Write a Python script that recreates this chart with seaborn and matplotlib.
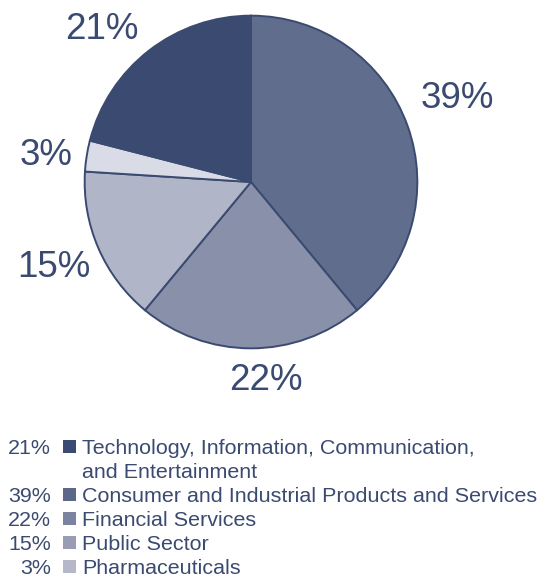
import numpy as np
import matplotlib
matplotlib.use("Agg")
import matplotlib.pyplot as plt
import seaborn as sns
from matplotlib.patches import Rectangle

sns.set_theme(style="white")
plt.rcParams["font.family"] = ["Liberation Sans", "DejaVu Sans"]

# Share of engagements by industry (percent)
sectors = [
    ["Consumer and Industrial Products and Services"],
    ["Financial Services"],
    ["Public Sector"],
    ["Pharmaceuticals"],
    ["Technology, Information, Communication,", "and Entertainment"],
]
shares = [39, 22, 15, 3, 21]
pie_colors = ["#616d8c", "#8991aa", "#b0b6c8", "#d9dce6", "#3a4a70"]

# Legend order and swatch colours
legend_order = [4, 0, 1, 2, 3]
legend_colors = ["#3b4a72", "#5d6889", "#7b83a0", "#989db3", "#b4b8c9"]

ink = "#3a4a70"
# radial distance and angular nudge (degrees) of each percentage label's baseline anchor
label_radius = [1.316, 1.253, 1.315, 1.239, 1.246]
label_nudge = [0.0, 4.2, 2.35, 4.3, 8.4]

fig = plt.figure(figsize=(5.56, 5.78), dpi=100)
ax = fig.add_axes([83 / 556, 1 - 350 / 578, 336 / 556, 336 / 578])

wedges, _ = ax.pie(
    shares,
    colors=pie_colors,
    startangle=90,
    counterclock=False,
    radius=1.0,
    wedgeprops=dict(edgecolor=ink, linewidth=1.4),
)
ax.set_xlim(-1.01, 1.01)
ax.set_ylim(-1.01, 1.01)
ax.set_aspect("equal")
ax.axis("off")

for w, v, r, d in zip(wedges, shares, label_radius, label_nudge):
    mid = np.deg2rad((w.theta1 + w.theta2) / 2 + d)
    ax.text(r * np.cos(mid), r * np.sin(mid), f"{v}%", ha="center",
            va="baseline", fontsize=26.5, color=ink, clip_on=False)

# Legend rows beneath the pie
row_tops = [440, 488, 512, 536, 560]
H = 578
for k, idx in enumerate(legend_order):
    top = row_tops[k]
    base = 1 - (top + 14) / H
    fig.text(51 / 556, base, f"{shares[idx]}%", ha="right", va="baseline",
             fontsize=15.45, color=ink)
    fig.patches.append(Rectangle((63 / 556, 1 - (top + 13) / H), 13 / 556, 13 / H,
                                 transform=fig.transFigure, facecolor=legend_colors[k],
                                 edgecolor="none"))
    for j, line in enumerate(sectors[idx]):
        fig.text(82 / 556, base - j * 24 / H, line, ha="left", va="baseline",
                 fontsize=15.45, color=ink)

fig.savefig("out.png", dpi=100)
